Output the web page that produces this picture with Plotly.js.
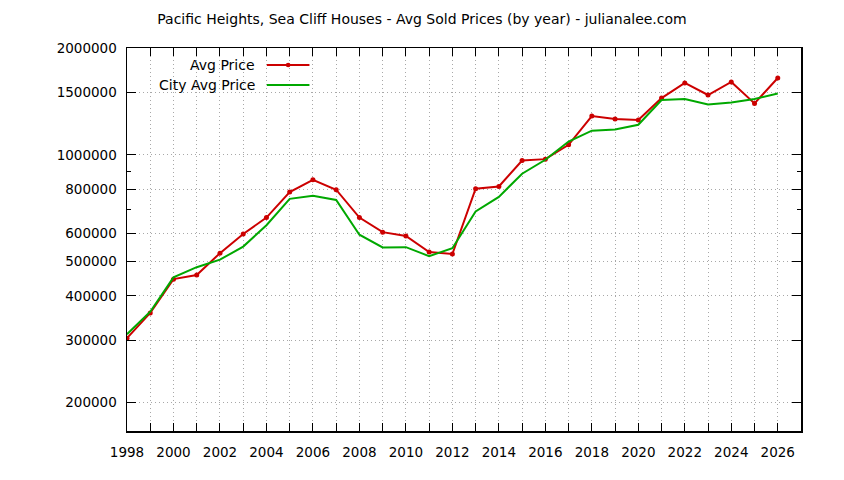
<!DOCTYPE html>
<html>
<head>
<meta charset="utf-8">
<script src="https://cdn.plot.ly/plotly-3.0.1.min.js"></script>
<style>
  html, body { margin: 0; padding: 0; background: #fff; }
  #chart { width: 844px; height: 480px; }
</style>
</head>
<body>
<div id="chart"></div>
<script>
// years on the x axis
const years = [1998, 1999, 2000, 2001, 2002, 2003, 2004, 2005, 2006, 2007,
  2008, 2009, 2010, 2011, 2012, 2013, 2014, 2015, 2016, 2017,
  2018, 2019, 2020, 2021, 2022, 2023, 2024, 2025, 2026];

// Pacific Heights / Sea Cliff avg sold price
const avgPrice = [304000, 358000, 446000, 458000, 528000, 598000, 665000, 785000, 850000, 797000,
  665000, 605000, 590000, 532000, 525000, 802000, 814000, 963000, 972000, 1067000,
  1286000, 1261000, 1253000, 1445000, 1594000, 1474000, 1604000, 1396000, 1646000];

// city wide avg price
const cityAvgPrice = [312000, 361000, 451000, 482000, 506000, 551000, 633000, 751000, 766000, 746000,
  595000, 548000, 549000, 518000, 545000, 692000, 761000, 884000, 968000, 1090000,
  1169000, 1179000, 1215000, 1427000, 1436000, 1386000, 1405000, 1436000, 1489000];

const yTickVals = [200000, 300000, 400000, 500000, 600000, 800000, 1000000, 1500000, 2000000];
const yTickText = ['200000', '300000', '400000', '500000', '600000', '800000', '1000000', '1500000', '2000000'];
const yMinorVals = [700000, 900000];

const xTickVals = years;
const xTickText = years.map(y => (y % 2 === 0 ? String(y) : ''));

const RED = '#cc0000';
const GREEN = '#00a800';
const GRID = '#a8a8a8';
const FONT = 'DejaVu Sans, Verdana, sans-serif';

const data = [
  {
    x: years,
    y: avgPrice,
    name: 'Avg Price',
    mode: 'lines+markers',
    type: 'scatter',
    line: {color: RED, width: 2},
    marker: {color: RED, size: 5, symbol: 'circle'}
  },
  {
    x: years,
    y: cityAvgPrice,
    name: 'City Avg Price',
    mode: 'lines',
    type: 'scatter',
    line: {color: GREEN, width: 2}
  }
];

// paper coords for the hand made key (gnuplot style: text then sample)
const keyTextX = 0.1927;
const keyLine = [0.2075, 0.2707];
const keyRows = [0.9556, 0.9033];

const layout = {
  width: 844,
  height: 480,
  paper_bgcolor: '#fff',
  plot_bgcolor: '#fff',
  showlegend: false,
  font: {family: FONT, size: 13, color: '#000'},
  margin: {l: 127, r: 43, t: 48, b: 49, pad: 0},
  title: {
    text: 'Pacific Heights, Sea Cliff Houses - Avg Sold Prices (by year) - julianalee.com',
    font: {family: FONT, size: 14, color: '#000'},
    xref: 'container', x: 0.5, xanchor: 'center',
    yref: 'container', y: 1 - 19 / 480, yanchor: 'middle'
  },
  xaxis: {
    range: [1998, 2027],
    tickvals: xTickVals,
    ticktext: xTickText,
    ticks: 'inside',
    ticklen: 8,
    tickcolor: '#000',
    tickwidth: 1,
    ticklabelstandoff: 8,
    showline: true,
    linecolor: '#000',
    linewidth: 1.5,
    mirror: 'ticks',
    showgrid: true,
    gridcolor: GRID,
    griddash: '1px,3px',
    gridwidth: 1,
    zeroline: false,
    tickfont: {family: FONT, size: 13.5, color: '#000'}
  },
  yaxis: {
    type: 'log',
    range: [Math.log10(166400), Math.log10(2000000)],
    tickvals: yTickVals,
    ticktext: yTickText,
    ticks: 'inside',
    ticklen: 9,
    tickcolor: '#000',
    tickwidth: 1,
    ticklabelstandoff: 6,
    minor: {tickvals: yMinorVals, ticks: 'inside', ticklen: 4, tickcolor: '#000', showgrid: false},
    showline: true,
    linecolor: '#000',
    linewidth: 1.5,
    mirror: 'ticks',
    showgrid: true,
    gridcolor: GRID,
    griddash: '1px,3px',
    gridwidth: 1,
    zeroline: false,
    tickfont: {family: FONT, size: 13.5, color: '#000'}
  },
  shapes: [
    // opaque key box over the grid
    {type: 'rect', xref: 'paper', yref: 'paper', x0: 0.002, x1: 0.284, y0: 0.878, y1: 0.997,
      fillcolor: '#fff', line: {width: 0}, layer: 'between'},
    {type: 'line', xref: 'paper', yref: 'paper', x0: keyLine[0], x1: keyLine[1], y0: keyRows[0], y1: keyRows[0],
      line: {color: RED, width: 2}},
    {type: 'circle', xref: 'paper', yref: 'paper',
      x0: (keyLine[0] + keyLine[1]) / 2 - 0.0035, x1: (keyLine[0] + keyLine[1]) / 2 + 0.0035,
      y0: keyRows[0] - 0.006, y1: keyRows[0] + 0.006,
      fillcolor: RED, line: {color: RED, width: 0}},
    {type: 'line', xref: 'paper', yref: 'paper', x0: keyLine[0], x1: keyLine[1], y0: keyRows[1], y1: keyRows[1],
      line: {color: GREEN, width: 2}}
  ],
  annotations: [
    {text: 'Avg Price', xref: 'paper', yref: 'paper', x: keyTextX, y: keyRows[0],
      xanchor: 'right', yanchor: 'middle', showarrow: false, font: {family: FONT, size: 14, color: '#000'}},
    {text: 'City Avg Price', xref: 'paper', yref: 'paper', x: keyTextX, y: keyRows[1],
      xanchor: 'right', yanchor: 'middle', showarrow: false, font: {family: FONT, size: 14, color: '#000'}}
  ]
};

Plotly.newPlot('chart', data, layout, {staticPlot: true, displayModeBar: false});
</script>
</body>
</html>
